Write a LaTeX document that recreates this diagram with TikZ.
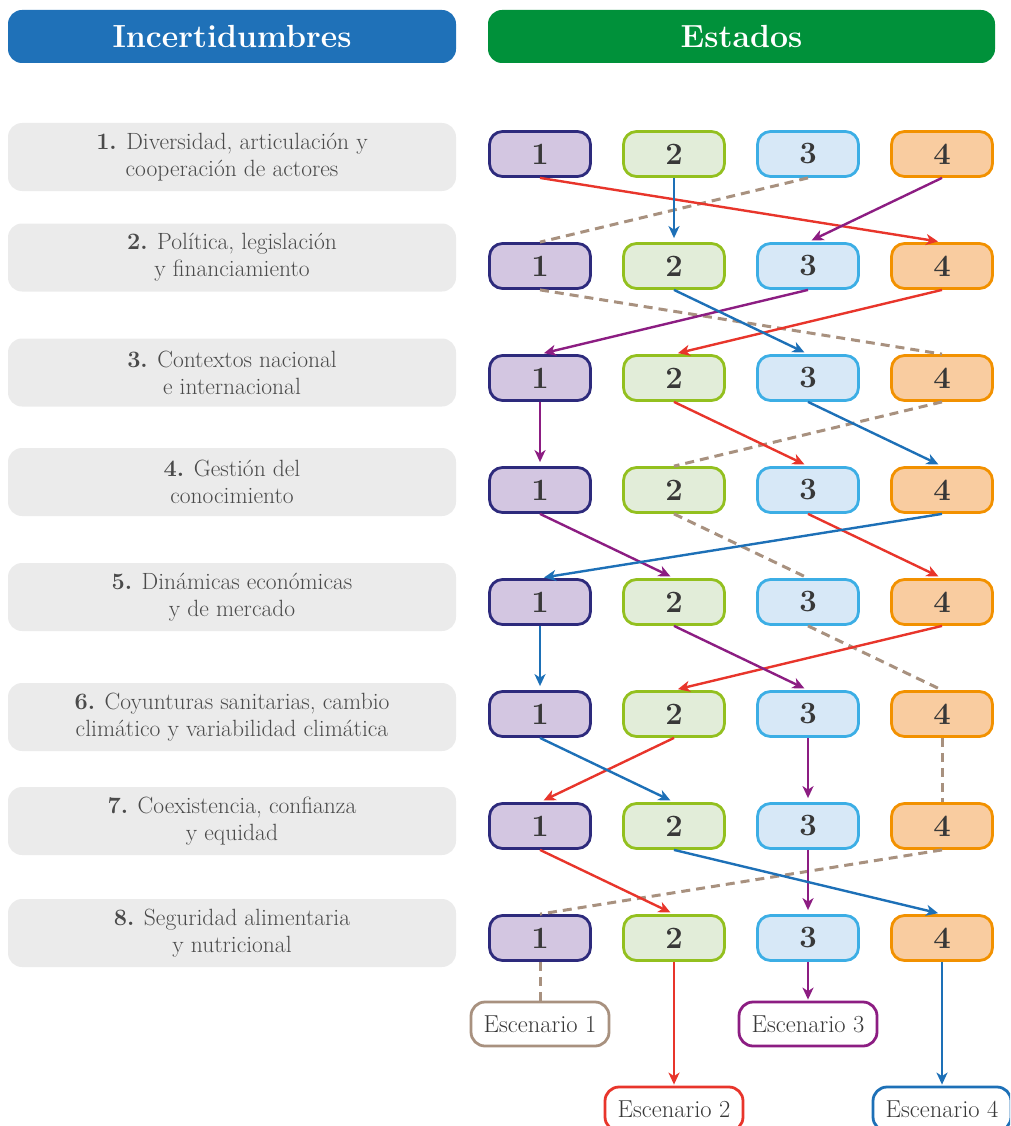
\documentclass[tikz,border=0pt]{standalone}
\usepackage{fontspec}
\usetikzlibrary{arrows.meta}
\definecolor{hblue}{HTML}{1F71B8}
\definecolor{hgreen}{HTML}{00913A}
\definecolor{greybox}{HTML}{EBEBEB}
\definecolor{greytext}{HTML}{4A4A4A}
\definecolor{numtext}{HTML}{383838}
\definecolor{cAfill}{HTML}{D3C6E1}
\definecolor{cAdraw}{HTML}{2D2A7C}
\definecolor{cBfill}{HTML}{E2EDD9}
\definecolor{cBdraw}{HTML}{93C01F}
\definecolor{cCfill}{HTML}{D7E8F7}
\definecolor{cCdraw}{HTML}{3CAEE5}
\definecolor{cDfill}{HTML}{F9CCA0}
\definecolor{cDdraw}{HTML}{F29100}
\definecolor{lred}{HTML}{E8352B}
\definecolor{lpurple}{HTML}{8C1D82}
\definecolor{lblue}{HTML}{1D70B7}
\definecolor{lbrown}{HTML}{A8917F}
\tikzset{
  header/.style={rounded corners=14pt, minimum height=53pt, text=white, inner sep=0,
    font=\fontsize{32}{38}\selectfont\bfseries},
  uncbox/.style={fill=greybox, rounded corners=14pt, minimum width=448pt, minimum height=68pt,
    text=greytext, align=center, inner sep=0, font=\fontsize{23.5}{27}\selectfont},
  stbox/.style={rounded corners=13pt, minimum width=101pt, minimum height=45pt, line width=2.8pt,
    inner sep=0, font=\fontsize{31}{31}\selectfont\bfseries, text=numtext},
  st1/.style={stbox, fill=cAfill, draw=cAdraw},
  st2/.style={stbox, fill=cBfill, draw=cBdraw},
  st3/.style={stbox, fill=cCfill, draw=cCdraw},
  st4/.style={stbox, fill=cDfill, draw=cDdraw},
  esc/.style={rounded corners=14pt, minimum width=138pt, minimum height=44pt, line width=2.8pt,
    inner sep=0, fill=white, font=\fontsize{24.5}{24.5}\selectfont, text=numtext},
  arr/.style={line width=2.4pt, -{Stealth[length=12pt,width=11pt,inset=3.5pt]}, shorten >=4pt},
  dsh/.style={line width=3pt, lbrown, dash pattern=on 9pt off 6pt}
}
\begin{document}
\begin{tikzpicture}[x=1pt,y=-1pt]
\useasboundingbox (0,0) rectangle (1010,1126);
\clip (0,0) rectangle (1010,1126);
% headers
\node[header, fill=hblue, minimum width=448pt] (hinc) at (232,36.5) {Incertidumbres};
\node[header, fill=hgreen, minimum width=507pt] (hest) at (741.5,36.5) {Estados};
% uncertainty boxes
\node[uncbox] (u1) at (232,157) {\textbf{1.} Diversidad, articulación y\\cooperación de actores};
\node[uncbox] (u2) at (232,257.5) {\textbf{2.} Política, legislación\\y financiamiento};
\node[uncbox] (u3) at (232,372.5) {\textbf{3.} Contextos nacional\\e internacional};
\node[uncbox] (u4) at (232,482) {\textbf{4.} Gestión del\\conocimiento};
\node[uncbox] (u5) at (232,597) {\textbf{5.} Dinámicas económicas\\y de mercado};
\node[uncbox] (u6) at (232,717) {\textbf{6.} Coyunturas sanitarias, cambio\\climático y variabilidad climática};
\node[uncbox] (u7) at (232,821) {\textbf{7.} Coexistencia, confianza\\y equidad};
\node[uncbox] (u8) at (232,933) {\textbf{8.} Seguridad alimentaria\\y nutricional};
% state boxes
\foreach \r in {1,...,8}{
  \foreach \c/\xx in {1/540,2/674,3/808,4/942}{
    \node[st\c] (s\r-\c) at (\xx,{154+112*(\r-1)}) {\c};
  }
}
% scenario boxes
\node[esc, draw=lbrown] (e1) at (540,1024) {Escenario 1};
\node[esc, draw=lpurple] (e3) at (808,1024) {Escenario 3};
\node[esc, draw=lred] (e2) at (674,1109) {Escenario 2};
\node[esc, draw=lblue] (e4) at (942,1109) {Escenario 4};
% scenario 1 (dashed)
\draw[dsh] (s1-3.south) -- (s2-1.north);
\draw[dsh] (s2-1.south) -- (s3-4.north);
\draw[dsh] (s3-4.south) -- (s4-2.north);
\draw[dsh] (s4-2.south) -- (s5-3.north);
\draw[dsh] (s5-3.south) -- (s6-4.north);
\draw[dsh] (s6-4.south) -- (s7-4.north);
\draw[dsh] (s7-4.south) -- (s8-1.north);
\draw[dsh] (s8-1.south) -- (e1.north);
% scenario 2 (red)
\draw[arr, lred] (s1-1.south) -- (s2-4.north);
\draw[arr, lred] (s2-4.south) -- (s3-2.north);
\draw[arr, lred] (s3-2.south) -- (s4-3.north);
\draw[arr, lred] (s4-3.south) -- (s5-4.north);
\draw[arr, lred] (s5-4.south) -- (s6-2.north);
\draw[arr, lred] (s6-2.south) -- (s7-1.north);
\draw[arr, lred] (s7-1.south) -- (s8-2.north);
\draw[arr, lred, shorten >=1pt] (s8-2.south) -- (e2.north);
% scenario 3 (purple)
\draw[arr, lpurple] (s1-4.south) -- (s2-3.north);
\draw[arr, lpurple] (s2-3.south) -- (s3-1.north);
\draw[arr, lpurple] (s3-1.south) -- (s4-1.north);
\draw[arr, lpurple] (s4-1.south) -- (s5-2.north);
\draw[arr, lpurple] (s5-2.south) -- (s6-3.north);
\draw[arr, lpurple] (s6-3.south) -- (s7-3.north);
\draw[arr, lpurple] (s7-3.south) -- (s8-3.north);
\draw[arr, lpurple, shorten >=1pt] (s8-3.south) -- (e3.north);
% scenario 4 (blue)
\draw[arr, lblue] (s1-2.south) -- (s2-2.north);
\draw[arr, lblue] (s2-2.south) -- (s3-3.north);
\draw[arr, lblue] (s3-3.south) -- (s4-4.north);
\draw[arr, lblue] (s4-4.south) -- (s5-1.north);
\draw[arr, lblue] (s5-1.south) -- (s6-1.north);
\draw[arr, lblue] (s6-1.south) -- (s7-2.north);
\draw[arr, lblue] (s7-2.south) -- (s8-4.north);
\draw[arr, lblue, shorten >=1pt] (s8-4.south) -- (e4.north);
\end{tikzpicture}
\end{document}
